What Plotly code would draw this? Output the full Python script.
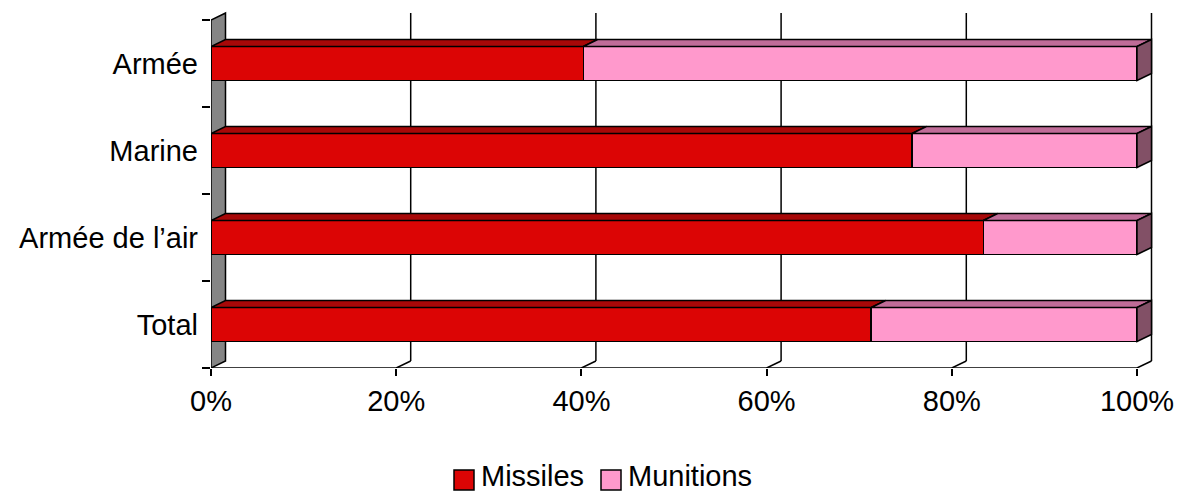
import plotly.graph_objects as go

# ---- data ----
categories = ["Armée", "Marine", "Armée de l’air", "Total"]
missiles = [40.2, 75.7, 83.4, 71.3]
munitions = [59.8, 24.3, 16.6, 28.7]
x_ticks = [0, 20, 40, 60, 80, 100]
x_tick_labels = ["0%", "20%", "40%", "60%", "80%", "100%"]
series_names = ["Missiles", "Munitions"]

# ---- style ----
FONT = "Arial, Liberation Sans, sans-serif"
FS = 29
RED_FRONT = "#DC0505"
RED_TOP = "#A80808"
PINK_FRONT = "#FF99CC"
PINK_TOP = "#C06C98"
PINK_SIDE = "#825066"
GRAY = "#858585"
LW = 1.5

W, H = 1179, 495
ML, MR, MT, MB = 211, 24, 10, 127
PW, PH = W - ML - MR, H - MT - MB
PX_PER_X = 9.26      # px per percent on the front plane
PX_PER_Y = 87.0      # px per category
DX = 14.5 / PX_PER_X  # depth offset in data units
DY = 7.0 / PX_PER_Y
HALF = 0.195

ypos = list(range(len(categories) - 1, -1, -1))
ymin, ymax = -0.5, len(categories) - 0.5

fig = go.Figure()
for vals, name, col in [(missiles, series_names[0], RED_FRONT), (munitions, series_names[1], PINK_FRONT)]:
    fig.add_bar(y=ypos, x=vals, orientation="h", name=name, width=2 * HALF,
                marker=dict(color=col, line=dict(color="black", width=LW)),
                showlegend=False, hoverinfo="x+name")

shapes = []
# back (left) wall
shapes.append(dict(type="path", xref="x", yref="y", layer="below",
                   path=f"M 0,{ymin} L {DX},{ymin+DY} L {DX},{ymax+DY} L 0,{ymax} Z",
                   fillcolor=GRAY, line=dict(color="black", width=LW)))
# gridlines on back plane + floor slants
for v in x_ticks[1:]:
    shapes.append(dict(type="line", xref="x", yref="y", layer="below",
                       x0=v + DX, y0=ymin + DY, x1=v + DX, y1=ymax + DY,
                       line=dict(color="black", width=LW)))
    shapes.append(dict(type="line", xref="x", yref="y", layer="below",
                       x0=v, y0=ymin, x1=v + DX, y1=ymin + DY,
                       line=dict(color="black", width=LW)))
# front floor edge
shapes.append(dict(type="line", xref="x", yref="y", layer="below",
                   x0=x_ticks[0], y0=ymin, x1=x_ticks[-1], y1=ymin,
                   line=dict(color="black", width=LW)))

# bar depth faces
for i, y in enumerate(ypos):
    yt, yb = y + HALF, y - HALF
    x0 = 0
    for vals, topc in [(missiles, RED_TOP), (munitions, PINK_TOP)]:
        x1 = x0 + vals[i]
        shapes.append(dict(type="path", xref="x", yref="y", layer="above",
                           path=f"M {x0},{yt} L {x1},{yt} L {x1+DX},{yt+DY} L {x0+DX},{yt+DY} Z",
                           fillcolor=topc, line=dict(color="black", width=LW)))
        x0 = x1
    shapes.append(dict(type="path", xref="x", yref="y", layer="above",
                       path=f"M {x0},{yb} L {x0},{yt} L {x0+DX},{yt+DY} L {x0+DX},{yb+DY} Z",
                       fillcolor=PINK_SIDE, line=dict(color="black", width=LW)))


def px_x(p):
    return (p - ML) / PW


def px_y(p):
    return (H - MB - p) / PH


annotations = []
for (bx0, bx1, tx), name, col in [((454, 474, 479), series_names[0], RED_FRONT),
                                   ((601, 621, 626), series_names[1], PINK_FRONT)]:
    shapes.append(dict(type="rect", xref="paper", yref="paper",
                       x0=px_x(bx0), x1=px_x(bx1), y0=px_y(490), y1=px_y(470),
                       fillcolor=col, line=dict(color="black", width=LW)))
    annotations.append(dict(xref="paper", yref="paper", x=px_x(tx), y=px_y(494),
                            xanchor="left", yanchor="bottom", text=name, showarrow=False,
                            font=dict(family=FONT, size=FS, color="black")))

fig.update_layout(
    width=W, height=H, barmode="stack",
    margin=dict(l=ML, r=MR, t=MT, b=MB, pad=0, autoexpand=False),
    paper_bgcolor="white", plot_bgcolor="white",
    font=dict(family=FONT, size=FS, color="black"),
    shapes=shapes, annotations=annotations, showlegend=False,
    xaxis=dict(range=[0, PW / PX_PER_X], tickvals=x_ticks, ticktext=x_tick_labels,
               ticks="outside", ticklen=7, tickwidth=LW, tickcolor="black",
               showgrid=False, zeroline=False, showline=False, automargin=False,
               tickfont=dict(family=FONT, size=FS, color="black"), fixedrange=True),
    yaxis=dict(range=[ymin, ymin + PH / PX_PER_Y], tickvals=ypos, ticktext=categories,
               ticks="", showgrid=False, zeroline=False, showline=False, automargin=False,
               ticklabelstandoff=12,
               minor=dict(tickvals=[v - 0.5 for v in ypos] + [ymax], ticks="outside",
                          ticklen=8, tickwidth=LW, tickcolor="black"),
               tickfont=dict(family=FONT, size=FS, color="black"), fixedrange=True),
)

fig.write_html("out.html")
